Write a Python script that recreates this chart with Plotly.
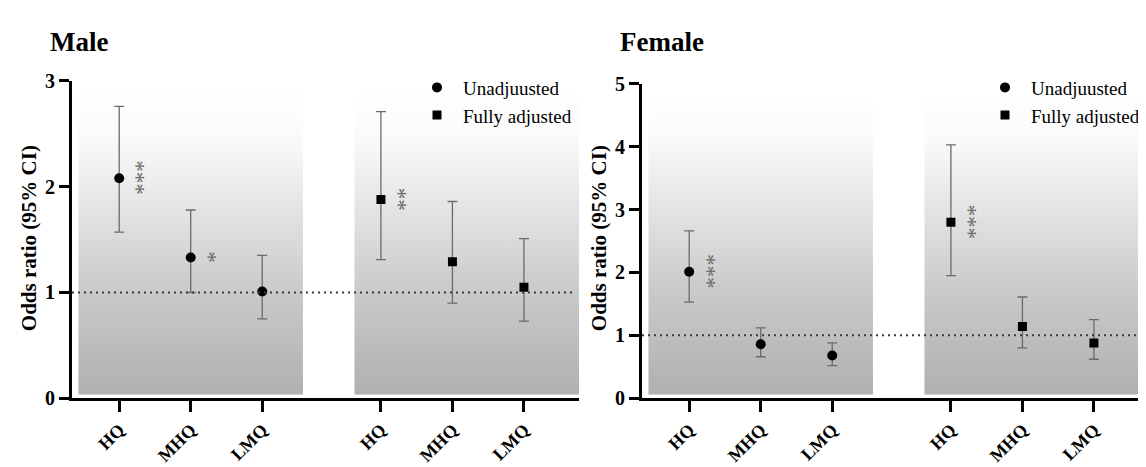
import plotly.graph_objects as go

# ---------------- data ----------------
categories = ["HQ", "MHQ", "LMQ"]
group_offset = 3.66  # position shift of the "Fully adjusted" group

male_unadj_or = [2.08, 1.33, 1.01]
male_unadj_lo = [1.57, 1.00, 0.75]
male_unadj_hi = [2.76, 1.78, 1.35]
male_adj_or = [1.88, 1.29, 1.05]
male_adj_lo = [1.31, 0.90, 0.73]
male_adj_hi = [2.71, 1.86, 1.51]

female_unadj_or = [2.01, 0.86, 0.68]
female_unadj_lo = [1.53, 0.66, 0.52]
female_unadj_hi = [2.66, 1.12, 0.88]
female_adj_or = [2.80, 1.14, 0.88]
female_adj_lo = [1.95, 0.80, 0.62]
female_adj_hi = [4.03, 1.61, 1.25]

male_unadj_sig = ["***", "*", ""]
male_adj_sig = ["**", "", ""]
female_unadj_sig = ["***", "", ""]
female_adj_sig = ["***", "", ""]

male_yticks = [0, 1, 2, 3]
female_yticks = [0, 1, 2, 3, 4, 5]

# ---------------- style ----------------
FONT = "Liberation Serif"
W, H = 1146, 467
X_RANGE = [-0.66, 6.43]
BOX_X = [(-0.57, 2.57), (3.29, 6.43)]
GRAD = [[0.0, "#acacac"], [0.35, "#c8c8c8"], [0.65, "#e6e6e6"], [0.85, "#fafafa"], [1.0, "#ffffff"]]
ERR_COLOR = "#6a6a6a"
SIG_COLOR = "#6c6c6c"

x_unadj = [i for i in range(len(categories))]
x_adj = [i + group_offset for i in range(len(categories))]

fig = go.Figure()

panels = [
    dict(xa="x", ya="y", box_y=(0.035, 2.92), yticks=male_yticks,
         unadj=(male_unadj_or, male_unadj_lo, male_unadj_hi, male_unadj_sig),
         adj=(male_adj_or, male_adj_lo, male_adj_hi, male_adj_sig), legend="legend"),
    dict(xa="x2", ya="y2", box_y=(0.06, 4.89), yticks=female_yticks,
         unadj=(female_unadj_or, female_unadj_lo, female_unadj_hi, female_unadj_sig),
         adj=(female_adj_or, female_adj_lo, female_adj_hi, female_adj_sig), legend="legend2"),
]

annotations = []
shapes = []

for p in panels:
    y0, y1 = p["box_y"]
    # gradient background boxes
    for bx0, bx1 in BOX_X:
        fig.add_trace(go.Scatter(
            x=[bx0, bx1, bx1, bx0, bx0], y=[y0, y0, y1, y1, y0],
            mode="lines", line=dict(width=0), fill="toself",
            fillgradient=dict(type="vertical", colorscale=GRAD, start=y0, stop=y1),
            hoverinfo="skip", showlegend=False, xaxis=p["xa"], yaxis=p["ya"]))
    # reference line at OR = 1
    shapes.append(dict(type="line", xref=f"{p['xa']} domain", yref=p["ya"],
                       x0=0, x1=0.99, y0=1, y1=1,
                       line=dict(color="#3a3a3a", width=2, dash="2px,4px")))
    for key, xs, sym, size in [("unadj", x_unadj, "circle", 10), ("adj", x_adj, "square", 9)]:
        orv, lo, hi, sig = p[key]
        fig.add_trace(go.Scatter(
            x=xs, y=orv, mode="markers",
            marker=dict(symbol=sym, size=size, color="black"),
            error_y=dict(type="data", symmetric=False,
                         array=[h - o for h, o in zip(hi, orv)],
                         arrayminus=[o - l for o, l in zip(orv, lo)],
                         color=ERR_COLOR, thickness=1.3, width=5),
            showlegend=False, xaxis=p["xa"], yaxis=p["ya"]))
        # significance stars, written as one vertical (rotated) text per stack
        for xv, yv, s in zip(xs, orv, sig):
            if not s:
                continue
            annotations.append(dict(
                x=xv + 0.29, y=yv, xref=p["xa"], yref=p["ya"],
                text=s, textangle=90, showarrow=False, xshift=-3,
                font=dict(family=FONT, size=23, color=SIG_COLOR)))
    # legend entries
    fig.add_trace(go.Scatter(x=[None], y=[None], mode="markers", name="Unadjuusted",
                             marker=dict(symbol="circle", size=10, color="black"),
                             legend=p["legend"], xaxis=p["xa"], yaxis=p["ya"]))
    fig.add_trace(go.Scatter(x=[None], y=[None], mode="markers", name="Fully adjusted",
                             marker=dict(symbol="square", size=9, color="black"),
                             legend=p["legend"], xaxis=p["xa"], yaxis=p["ya"]))

# titles and axis titles
annotations += [
    dict(text="<b>Male</b>", x=40 / W, y=1 - 24 / H, xref="paper", yref="paper",
         xanchor="left", yanchor="middle", showarrow=False,
         font=dict(family=FONT, size=27, color="black")),
    dict(text="<b>Female</b>", x=610 / W, y=1 - 24 / H, xref="paper", yref="paper",
         xanchor="left", yanchor="middle", showarrow=False,
         font=dict(family=FONT, size=27, color="black")),
    dict(text="<b>Odds ratio (95% CI)</b>", x=21 / W, y=1 - 230 / H, xref="paper", yref="paper",
         textangle=-90, xanchor="center", yanchor="middle", showarrow=False,
         font=dict(family=FONT, size=21, color="black")),
    dict(text="<b>Odds ratio (95% CI)</b>", x=591 / W, y=1 - 230 / H, xref="paper", yref="paper",
         textangle=-90, xanchor="center", yanchor="middle", showarrow=False,
         font=dict(family=FONT, size=21, color="black")),
]

tickpos = x_unadj + x_adj
ticktext = categories + categories

xaxis_common = dict(range=X_RANGE, tickvals=tickpos, ticktext=ticktext, tickangle=-45,
                    showline=True, linecolor="black", linewidth=3, ticks="outside",
                    ticklen=11, tickwidth=3, tickcolor="black", showgrid=False,
                    zeroline=False, fixedrange=True,
                    tickfont=dict(family=FONT, size=18, color="black", weight="bold"))
yaxis_common = dict(showline=True, linecolor="black", linewidth=3, ticks="outside",
                    ticklen=10, tickwidth=3, tickcolor="black", showgrid=False,
                    zeroline=False, fixedrange=True,
                    tickfont=dict(family=FONT, size=20, color="black", weight="bold"))

legend_common = dict(font=dict(family=FONT, size=19, color="black"), bgcolor="rgba(0,0,0,0)",
                     yanchor="top", xanchor="left", tracegroupgap=0, itemwidth=42)

fig.update_layout(
    width=W, height=H, margin=dict(l=0, r=0, t=0, b=0),
    paper_bgcolor="white", plot_bgcolor="rgba(0,0,0,0)",
    xaxis=dict(domain=[64 / W, 571 / W], anchor="y", **xaxis_common),
    yaxis=dict(domain=[69 / H, 402 / H], anchor="x", range=[0, 3], tickvals=male_yticks, **yaxis_common),
    xaxis2=dict(domain=[634 / W, 1141 / W], anchor="y2", **xaxis_common),
    yaxis2=dict(domain=[69 / H, 399 / H], anchor="x2", range=[0, 5], tickvals=female_yticks, **yaxis_common),
    legend=dict(x=403 / W, y=1 - 52 / H, **legend_common),
    legend2=dict(x=971 / W, y=1 - 52 / H, **legend_common),
    annotations=annotations, shapes=shapes, showlegend=True,
)

fig.write_html("out.html")
